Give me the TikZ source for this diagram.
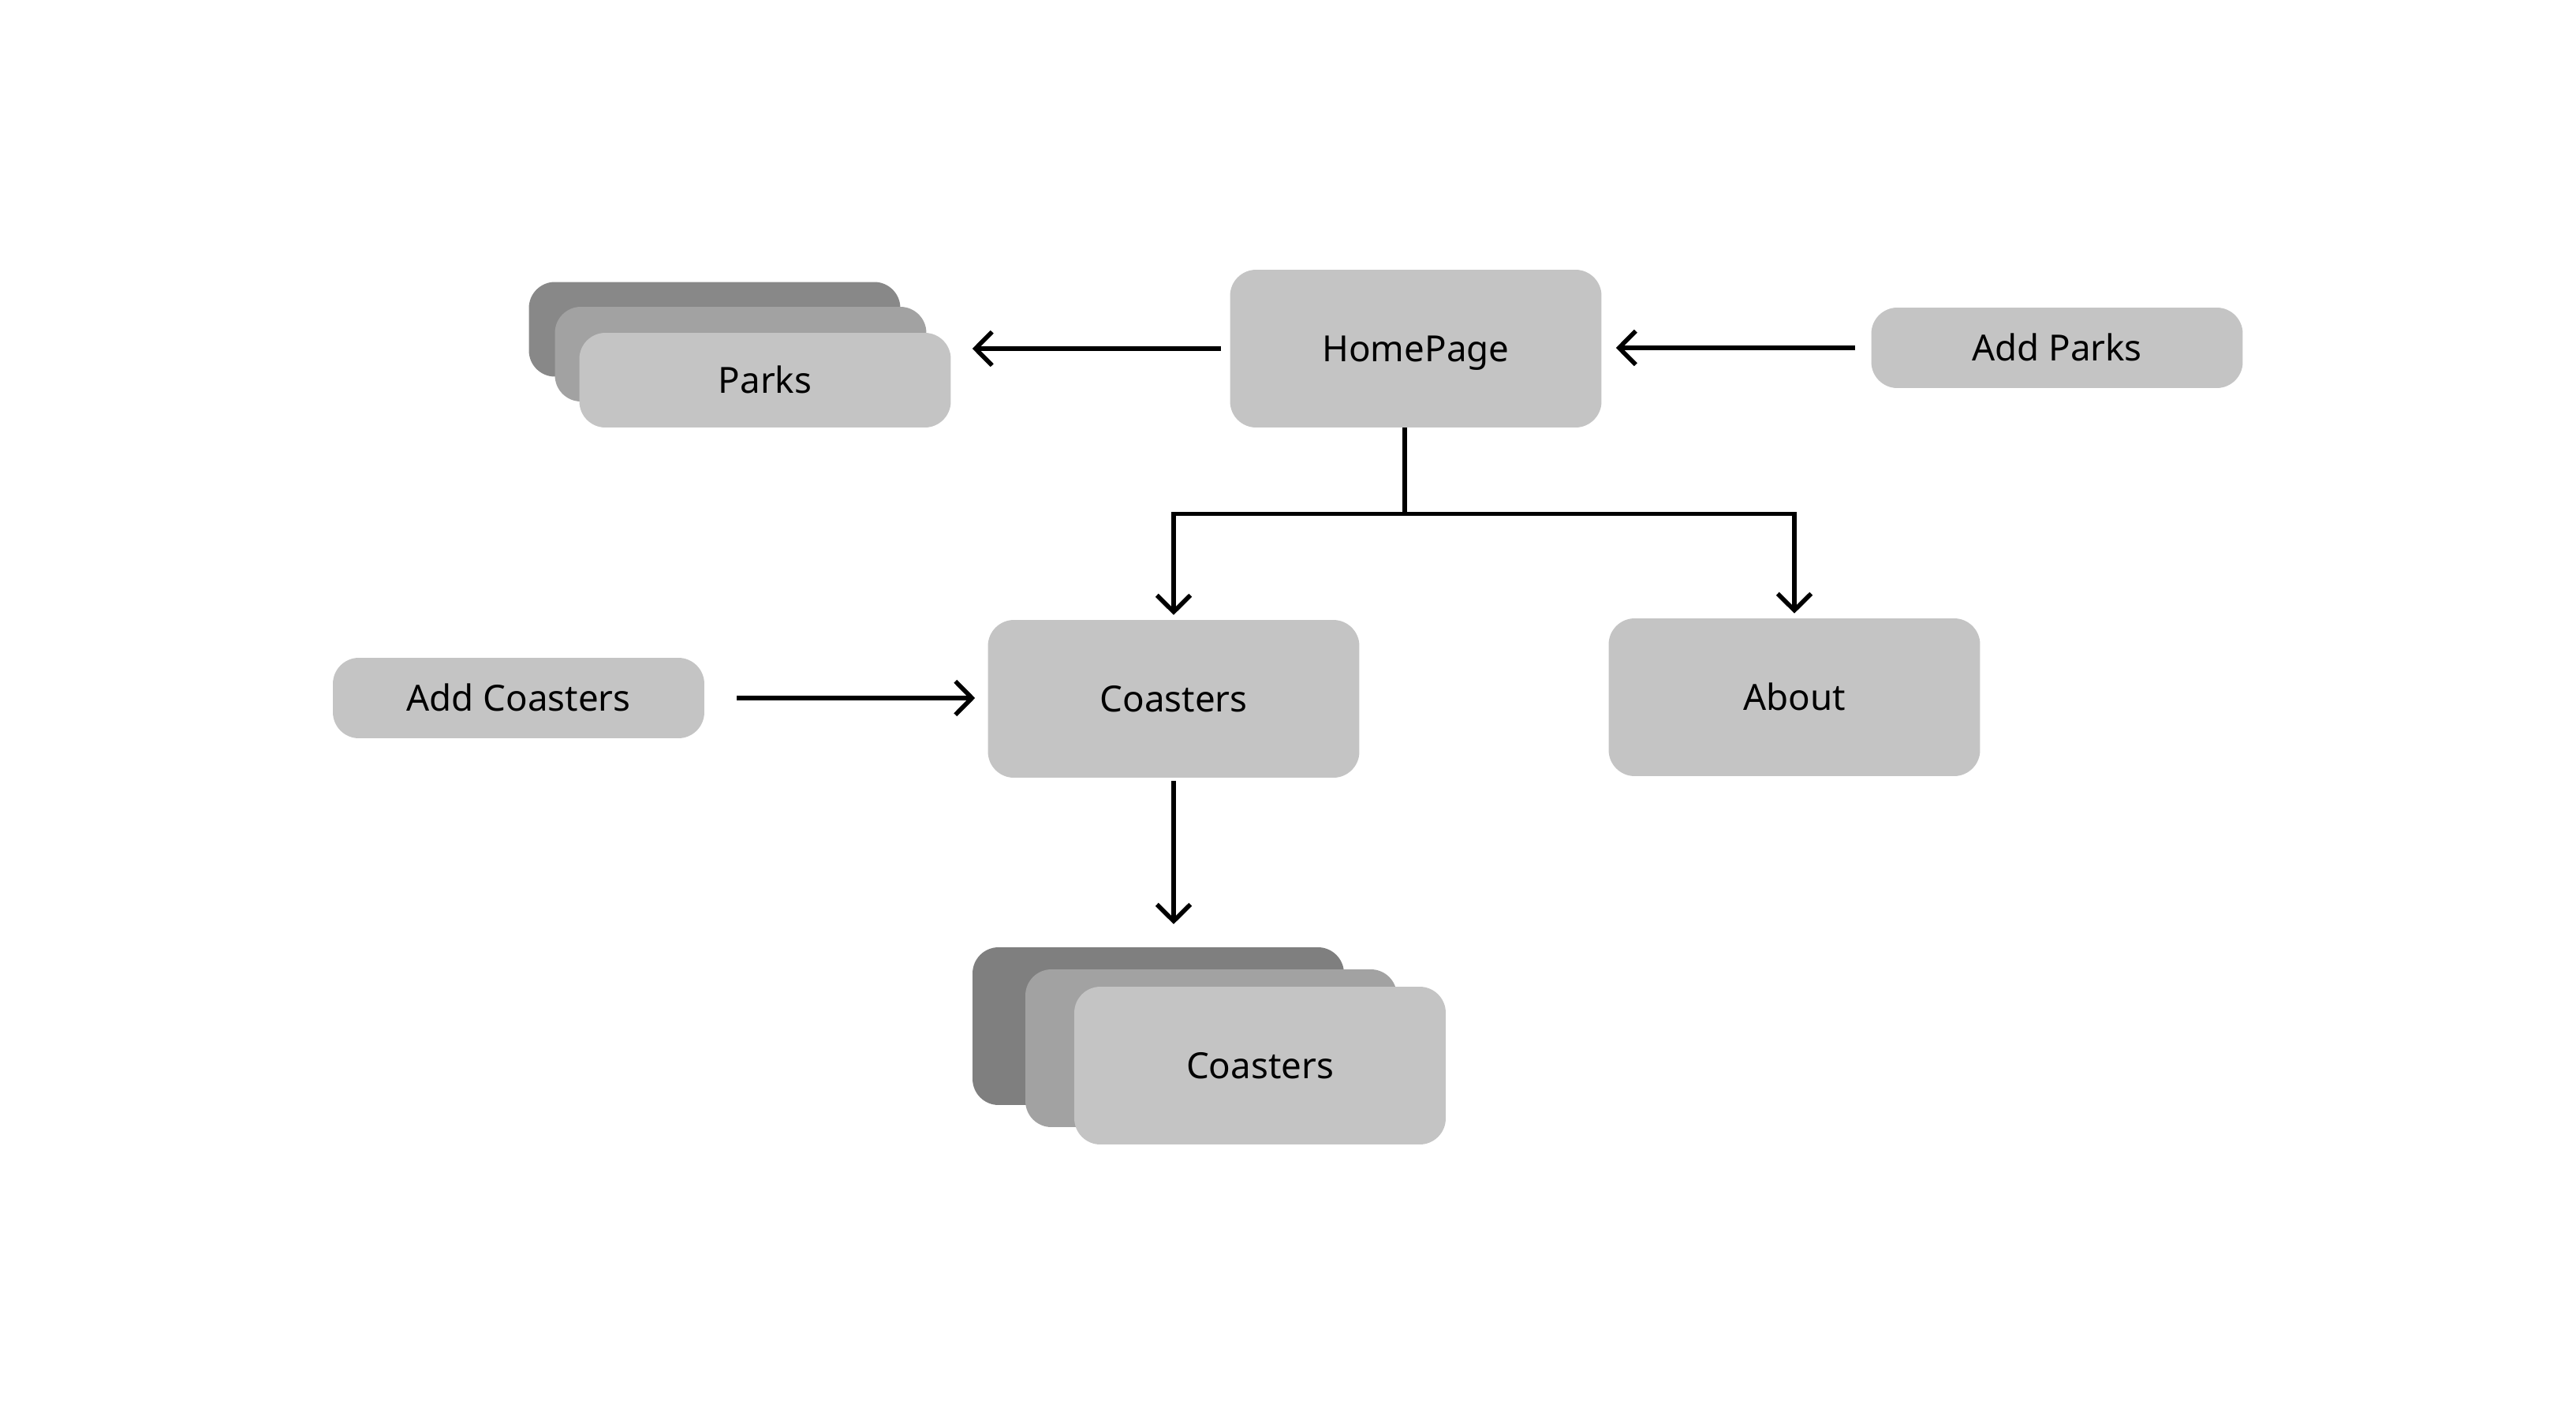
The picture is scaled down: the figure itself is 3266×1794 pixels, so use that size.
\documentclass[tikz,border=0pt]{standalone}
\usepackage{fontspec}
\setmainfont{Noto Sans}
\usetikzlibrary{arrows.meta}
\definecolor{boxc}{HTML}{C4C4C4}
\definecolor{midc}{HTML}{A2A2A2}
\definecolor{darkp}{HTML}{888888}
\definecolor{darkc}{HTML}{7F7F7F}
\begin{document}
\begin{tikzpicture}[x=0.02cm,y=-0.02cm,
  card/.style={fill=boxc, rounded corners=0.66cm, inner sep=0pt, text=black, text height=0.66cm, text depth=0cm, font=\fontsize{26}{30}\selectfont},
  big/.style={card, minimum width=9.42cm, minimum height=4cm},
  small/.style={card, minimum width=9.42cm, minimum height=2.04cm},
  stackp/.style={card, minimum width=9.42cm, minimum height=2.4cm},
  line/.style={line width=3.2pt},
  conn/.style={line, -{Straight Barb[length=0.42cm,width=0.85cm]}},
]
\useasboundingbox[fill=white] (0,0) rectangle (3266,1794);

% Parks stack
\node[stackp, fill=darkp] (parksC) at (906,417.5) {};
\node[stackp, fill=midc] (parksB) at (939,449) {};
\node[stackp] (parks) at (970,482) {Parks};

\node[big] (hp) at (1795,442) {HomePage};
\node[small] (addp) at (2608,441) {Add Parks};

\node[big] (coast) at (1488,886) {Coasters};
\node[big] (about) at (2275,884) {About};
\node[small] (addc) at (657.5,885) {Add Coasters};

% Coasters stack
\node[big, fill=darkc] (cstackC) at (1468.5,1301) {};
\node[big, fill=midc] (cstackB) at (1535.5,1329) {};
\node[big] (cstack) at (1597.5,1351) {Coasters};

% connectors
\draw[conn, shorten <=0.22cm, shorten >=0.54cm] (hp.west) -- (hp.west -| parks.east);
\draw[conn, shorten <=0.4cm, shorten >=0.36cm] (addp.west) -- (addp.west -| hp.east);
\draw[line] ([xshift=-0.28cm]hp.south) -- ++(0,109) coordinate (j);
\draw[conn, shorten >=0.12cm] (j) -| (coast.north);
\draw[conn, shorten >=0.12cm] (j) -| (about.north);
\draw[conn, shorten <=0.82cm, shorten >=0.32cm] (addc.east) -- (addc.east -| coast.west);
\draw[conn, shorten <=0.08cm, shorten >=0.58cm] (coast.south) -- (coast.south |- cstackC.north);
\end{tikzpicture}
\end{document}
